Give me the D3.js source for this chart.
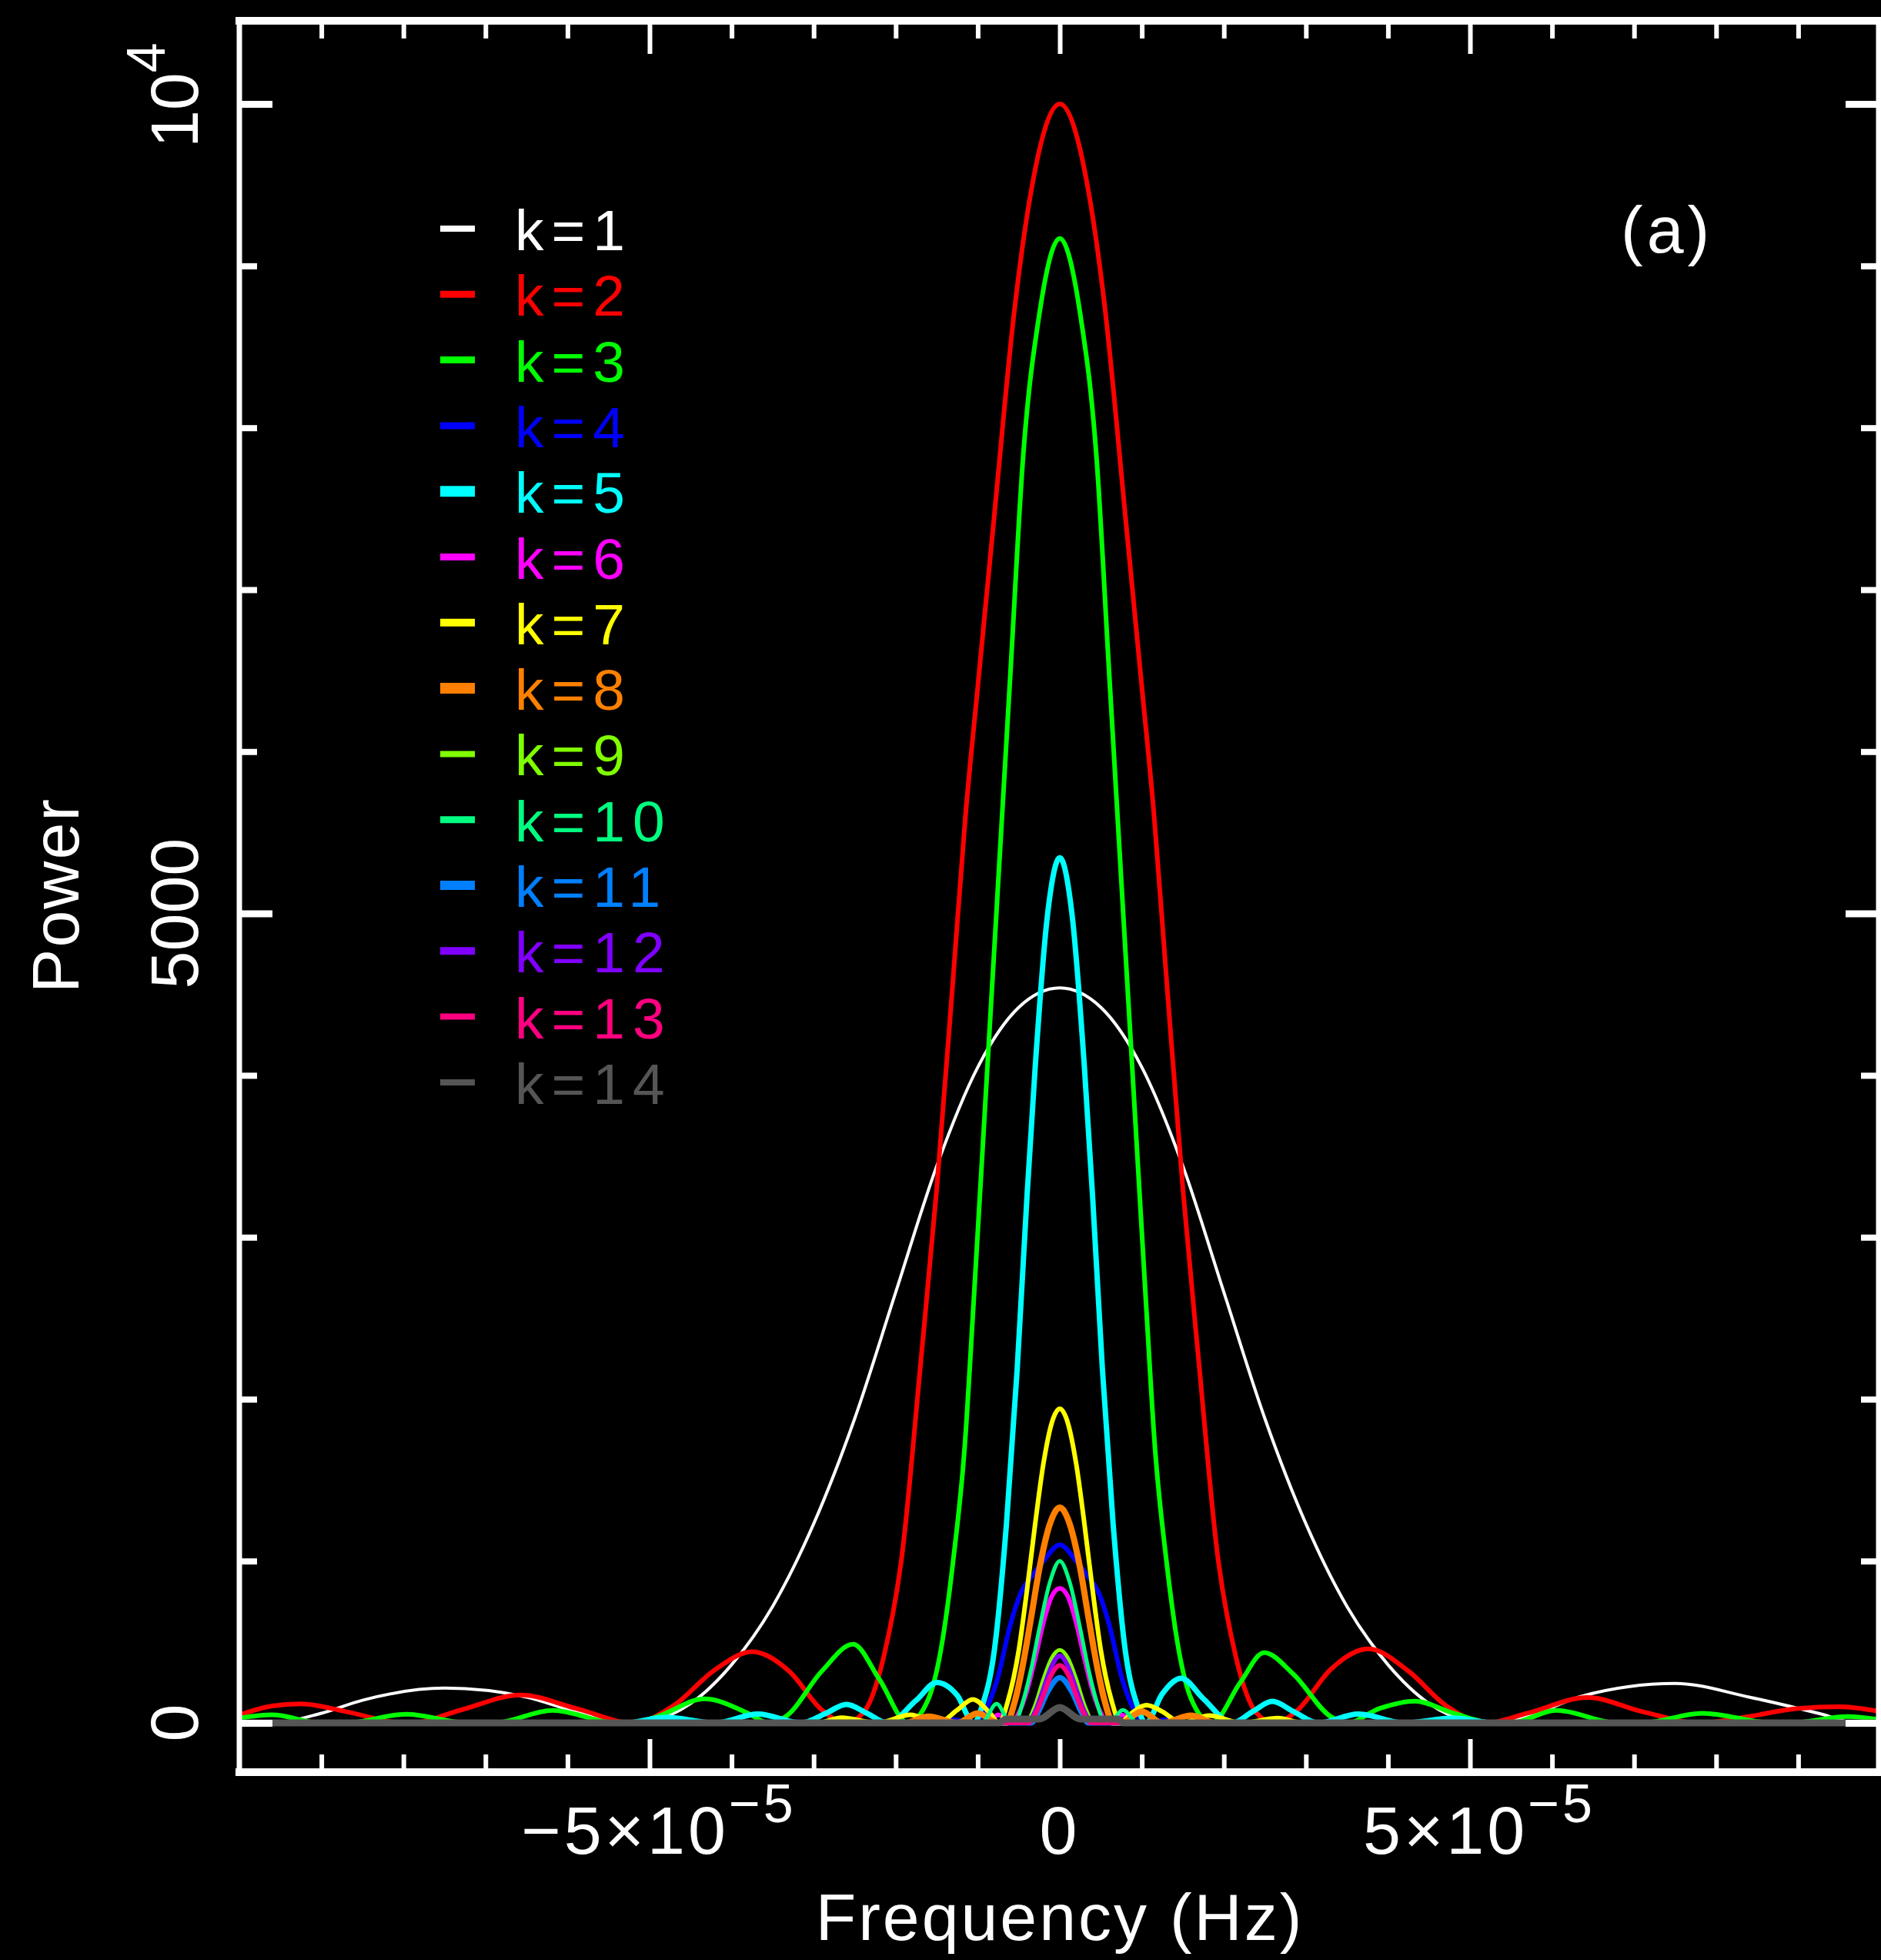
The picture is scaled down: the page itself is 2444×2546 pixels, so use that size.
<!DOCTYPE html>
<html>
<head>
<meta charset="utf-8">
<script src="https://cdn.jsdelivr.net/npm/d3@7"></script>
<style>
  html, body { margin: 0; padding: 0; background: #000; }
  svg { display: block; }
  text { font-family: "Liberation Sans", Arial, sans-serif; }
</style>
</head>
<body>
<svg id="chart" width="2444" height="2546"></svg>
<script>
// ---- data (frequency in units of 1e-5 Hz, power) ----
const FREQ_UNIT = 1e-5;

const k1 = [[-10,15],[-9.6,0],[-9.0,60],[-8.5,140],[-7.5,215],[-6.5,160],[-5.9,70],[-5.2,0],[-5.0,10],[-4.5,120],[-4.0,360],[-3.5,720],[-3.0,1230],[-2.5,1880],[-2.0,2660],[-1.5,3440],[-1.0,4050],[-0.5,4420],[0,4540],[0.5,4420],[1.0,4050],[1.5,3440],[2.0,2660],[2.5,1880],[3.0,1230],[3.5,720],[4.0,360],[4.5,120],[5.0,10],[5.2,0],[5.8,60],[6.36,165],[7.5,244],[8.4,160],[9.29,54],[9.7,0],[10,15]];

const k2 = [[-10,50],[-9.6,105],[-9.25,118],[-8.7,70],[-8.0,0],[-7.9,0],[-7.3,80],[-6.57,173],[-5.9,90],[-5.2,0],[-4.7,110],[-4.2,330],[-3.75,440],[-3.3,320],[-2.9,80],[-2.62,0],[-2.4,60],[-2.15,400],[-1.92,1050],[-1.7,2200],[-1.5,3300],[-1.3,4600],[-1.15,5600],[-1.0,6400],[-0.8,7450],[-0.55,8740],[-0.38,9370],[0,10000],[0.38,9370],[0.55,8740],[0.8,7450],[1.0,6400],[1.15,5600],[1.3,4600],[1.5,3300],[1.7,2200],[1.92,1050],[2.15,400],[2.4,60],[2.62,0],[2.9,80],[3.3,330],[3.76,458],[4.25,320],[4.7,110],[5.2,0],[5.7,60],[6.43,157],[7.1,70],[7.8,0],[8.4,40],[9.0,90],[9.5,100],[10,70]];

const k3 = [[-10,30],[-9.6,50],[-9.0,0],[-8.7,0],[-7.97,54],[-7.2,0],[-6.9,0],[-6.18,78],[-5.4,0],[-5.2,0],[-4.9,40],[-4.33,149],[-3.8,60],[-3.55,0],[-3.34,40],[-2.9,320],[-2.52,486],[-2.2,270],[-1.85,0],[-1.6,150],[-1.45,450],[-1.3,1000],[-1.16,1700],[-1.05,2600],[-0.9,3900],[-0.75,5200],[-0.6,6500],[-0.45,7800],[-0.25,8700],[0,9170],[0.25,8700],[0.45,7800],[0.6,6500],[0.75,5200],[0.9,3900],[1.05,2600],[1.16,1700],[1.3,1000],[1.45,450],[1.6,150],[1.85,0],[2.2,250],[2.49,434],[2.85,300],[3.3,40],[3.5,0],[3.9,90],[4.33,135],[4.8,60],[5.3,0],[5.5,0],[6.05,78],[6.8,0],[7.1,0],[7.83,60],[8.7,0],[8.9,0],[9.6,40],[10,20]];

const k4 = [[-10,0],[-1.6,0],[-1.3,20],[-1.05,0],[-0.95,40],[-0.85,140],[-0.75,290],[-0.61,593],[-0.46,820],[-0.35,900],[-0.2,1000],[0,1100],[0.2,1000],[0.35,900],[0.46,820],[0.61,593],[0.75,290],[0.85,140],[0.95,40],[1.05,0],[1.3,20],[1.6,0],[10,0]];

const k5 = [[-10,0],[-5.3,0],[-4.8,35],[-4.2,0],[-3.68,55],[-3.15,0],[-2.85,60],[-2.6,115],[-2.35,60],[-2.1,0],[-1.75,140],[-1.5,250],[-1.25,170],[-1.05,0],[-0.95,100],[-0.8,440],[-0.65,1230],[-0.52,2180],[-0.4,3250],[-0.3,4050],[-0.15,4990],[0,5344],[0.15,4990],[0.3,4050],[0.4,3250],[0.52,2180],[0.65,1230],[0.8,440],[0.95,100],[1.05,0],[1.25,180],[1.48,276],[1.75,150],[2.1,0],[2.35,70],[2.59,133],[2.85,70],[3.15,0],[3.64,55],[4.2,0],[4.8,30],[5.3,0],[10,0]];

const k6 = [[-10,0],[-0.9,0],[-0.75,50],[-0.6,0],[-0.5,60],[-0.4,200],[-0.3,400],[-0.2,620],[-0.1,780],[0,831],[0.1,780],[0.2,620],[0.3,400],[0.4,200],[0.5,60],[0.6,0],[0.75,50],[0.9,0],[10,0]];

const k7 = [[-10,0],[-2.96,0],[-2.66,33],[-2.22,0],[-1.82,50],[-1.48,0],[-1.25,80],[-1.06,145],[-0.85,60],[-0.74,0],[-0.63,140],[-0.5,450],[-0.4,820],[-0.3,1230],[-0.2,1600],[-0.1,1850],[0,1940],[0.1,1850],[0.2,1600],[0.3,1230],[0.4,820],[0.5,450],[0.63,140],[0.74,0],[0.85,50],[1.06,110],[1.25,70],[1.48,0],[1.82,45],[2.22,0],[2.66,30],[2.96,0],[10,0]];

const k8 = [[-10,0],[-1.9,0],[-1.6,40],[-1.25,0],[-1.0,60],[-0.75,0],[-0.65,0],[-0.55,130],[-0.45,360],[-0.35,650],[-0.25,950],[-0.12,1230],[0,1330],[0.12,1230],[0.25,950],[0.35,650],[0.45,360],[0.55,130],[0.65,0],[0.75,0],[1.0,70],[1.25,0],[1.6,45],[1.9,0],[10,0]];

const k9 = [[-10,0],[-0.42,0],[-0.3,110],[-0.2,270],[-0.1,400],[0,451],[0.1,400],[0.2,270],[0.3,110],[0.42,0],[10,0]];

const k10 = [[-10,0],[-0.95,0],[-0.77,118],[-0.6,0],[-0.55,0],[-0.45,130],[-0.35,330],[-0.25,580],[-0.12,870],[0,1000],[0.12,870],[0.25,580],[0.35,330],[0.45,130],[0.55,0],[0.6,0],[0.77,80],[0.95,0],[10,0]];

const k11 = [[-10,0],[-0.35,0],[-0.25,80],[-0.15,190],[0,280],[0.15,190],[0.25,80],[0.35,0],[10,0]];

const k12 = [[-10,0],[-0.4,0],[-0.3,70],[-0.2,210],[-0.1,350],[0,415],[0.1,350],[0.2,210],[0.3,70],[0.4,0],[10,0]];

const k13 = [[-10,0],[-0.38,0],[-0.3,50],[-0.2,170],[-0.1,300],[0,356],[0.1,300],[0.2,170],[0.3,50],[0.38,0],[10,0]];

const k14 = [[-10,0],[-0.75,0],[-0.65,24],[-0.25,24],[0,95],[0.25,24],[0.7,24],[0.78,0],[10,0]];

const seriesLabels = ["k=1","k=2","k=3","k=4","k=5","k=6","k=7","k=8","k=9","k=10","k=11","k=12","k=13","k=14"];
const seriesData = [k1,k2,k3,k4,k5,k6,k7,k8,k9,k10,k11,k12,k13,k14];
const seriesColors = ["#ffffff","#ff0000","#00ff00","#0000ff","#00ffff","#ff00ff","#ffff00","#ff8000","#80ff00","#00ff80","#0080ff","#8000ff","#ff0080","#555555"];
const curveWidths = [4,6,6,6,7,6,6,8,5,5,7,6,6,9];
const legendWidths = [8,9,9,9,14,9,10,14,8,9,12,10,8,8];

const xMajorTicks = [-5e-5, 0, 5e-5];
const xMinorTicks = [-9e-5,-8e-5,-7e-5,-6e-5,-4e-5,-3e-5,-2e-5,-1e-5,1e-5,2e-5,3e-5,4e-5,6e-5,7e-5,8e-5,9e-5];
const yMajorTicks = [0, 5000, 10000];
const yMinorTicks = [1000,2000,3000,4000,6000,7000,8000,9000];

// ---- layout ----
const L = 311, R = 2441, T = 27, B = 2302;
const svg = d3.select("#chart");
svg.append("rect").attr("width", 2444).attr("height", 2546).attr("fill", "#000");

const x = d3.scaleLinear().domain([-1e-4, 1e-4]).range([L, 2443]);
const y = d3.scaleLinear().domain([-304, 10514]).range([B, T]);

svg.append("clipPath").attr("id", "clip")
  .append("rect").attr("x", L).attr("y", T).attr("width", R - L).attr("height", B - T);

// ---- curves ----
const line = d3.line()
  .x(d => x(d[0] * FREQ_UNIT))
  .y(d => y(d[1]))
  .curve(d3.curveMonotoneX);

const plot = svg.append("g").attr("clip-path", "url(#clip)");
seriesData.forEach((data, i) => {
  plot.append("path")
    .datum(data)
    .attr("d", line)
    .attr("fill", "none")
    .attr("stroke", seriesColors[i])
    .attr("stroke-width", curveWidths[i])
    .attr("stroke-linejoin", "round");
});

// ---- axes (ticks) ----
function styleAxis(g, w) {
  g.select(".domain").remove();
  g.selectAll(".tick line").attr("stroke", "#fff").attr("stroke-width", w);
  g.selectAll(".tick text").remove();
}
const minorLen = 23, majorLen = 43;
[[d3.axisBottom, B], [d3.axisTop, T]].forEach(([ax, pos]) => {
  svg.append("g").attr("transform", `translate(0,${pos})`)
    .call(ax(x).tickValues(xMinorTicks).tickSize(-minorLen).tickFormat(""))
    .call(g => styleAxis(g, 6));
  svg.append("g").attr("transform", `translate(0,${pos})`)
    .call(ax(x).tickValues(xMajorTicks).tickSize(-majorLen).tickFormat(""))
    .call(g => styleAxis(g, 6));
});
[[d3.axisLeft, L], [d3.axisRight, R]].forEach(([ax, pos]) => {
  svg.append("g").attr("transform", `translate(${pos},0)`)
    .call(ax(y).tickValues(yMinorTicks).tickSize(-minorLen).tickFormat(""))
    .call(g => styleAxis(g, 8));
  svg.append("g").attr("transform", `translate(${pos},0)`)
    .call(ax(y).tickValues(yMajorTicks).tickSize(-majorLen).tickFormat(""))
    .call(g => styleAxis(g, 9));
});

// ---- frame ----
const frame = svg.append("g").attr("stroke", "#fff").attr("stroke-linecap", "square");
frame.append("line").attr("x1", L).attr("x2", R).attr("y1", T).attr("y2", T).attr("stroke-width", 10);
frame.append("line").attr("x1", L).attr("x2", R).attr("y1", B).attr("y2", B).attr("stroke-width", 10);
frame.append("line").attr("x1", L).attr("x2", L).attr("y1", T).attr("y2", B).attr("stroke-width", 7);
frame.append("line").attr("x1", R).attr("x2", R).attr("y1", T).attr("y2", B).attr("stroke-width", 7);

// ---- tick labels ----
const fs = 88, supFs = 70;
const xl = svg.append("g").attr("fill", "#fff").attr("font-size", fs).attr("letter-spacing", 4);
xl.append("text").attr("x", x(0)).attr("y", 2408).attr("text-anchor", "middle").text("0");
[[-5e-5, "\u22125\u00d710"], [5e-5, "5\u00d710"]].forEach(([v, s]) => {
  const t = xl.append("text").attr("x", x(v) + 12).attr("y", 2408).attr("text-anchor", "middle");
  t.append("tspan").text(s);
  t.append("tspan").attr("dy", -41).attr("font-size", supFs).text("\u22125");
});
const yl = svg.append("g").attr("fill", "#fff").attr("font-size", fs);
yl.append("text").attr("transform", `translate(257,${y(0)}) rotate(-90)`).attr("text-anchor", "middle").text("0");
yl.append("text").attr("transform", `translate(257,${y(5000)}) rotate(-90)`).attr("text-anchor", "middle").text("5000");
const t4 = yl.append("text").attr("transform", `translate(257,${y(10000) + 57}) rotate(-90)`).attr("text-anchor", "start");
t4.append("tspan").text("10");
t4.append("tspan").attr("dy", -43).attr("font-size", supFs).text("4");

// axis titles
svg.append("text").attr("x", x(0)).attr("y", 2520).attr("text-anchor", "middle")
  .attr("fill", "#fff").attr("font-size", 86).attr("letter-spacing", 3).text("Frequency (Hz)");
svg.append("text").attr("transform", "translate(102,1163) rotate(-90)").attr("text-anchor", "middle")
  .attr("fill", "#fff").attr("font-size", 86).attr("letter-spacing", 2).text("Power");

// panel label
svg.append("text").attr("x", 2106).attr("y", 328).attr("fill", "#fff")
  .attr("font-size", 86).attr("letter-spacing", 5).text("(a)");

// ---- legend ----
const leg = svg.append("g");
seriesLabels.forEach((lab, i) => {
  const cy = 297 + i * 85.3;
  leg.append("line").attr("x1", 572).attr("x2", 617).attr("y1", cy).attr("y2", cy)
    .attr("stroke", seriesColors[i]).attr("stroke-width", legendWidths[i]);
  leg.append("text").attr("x", 669).attr("y", cy + 28).attr("fill", seriesColors[i])
    .attr("font-size", 75).attr("letter-spacing", 10).text(lab);
});
</script>
</body>
</html>
